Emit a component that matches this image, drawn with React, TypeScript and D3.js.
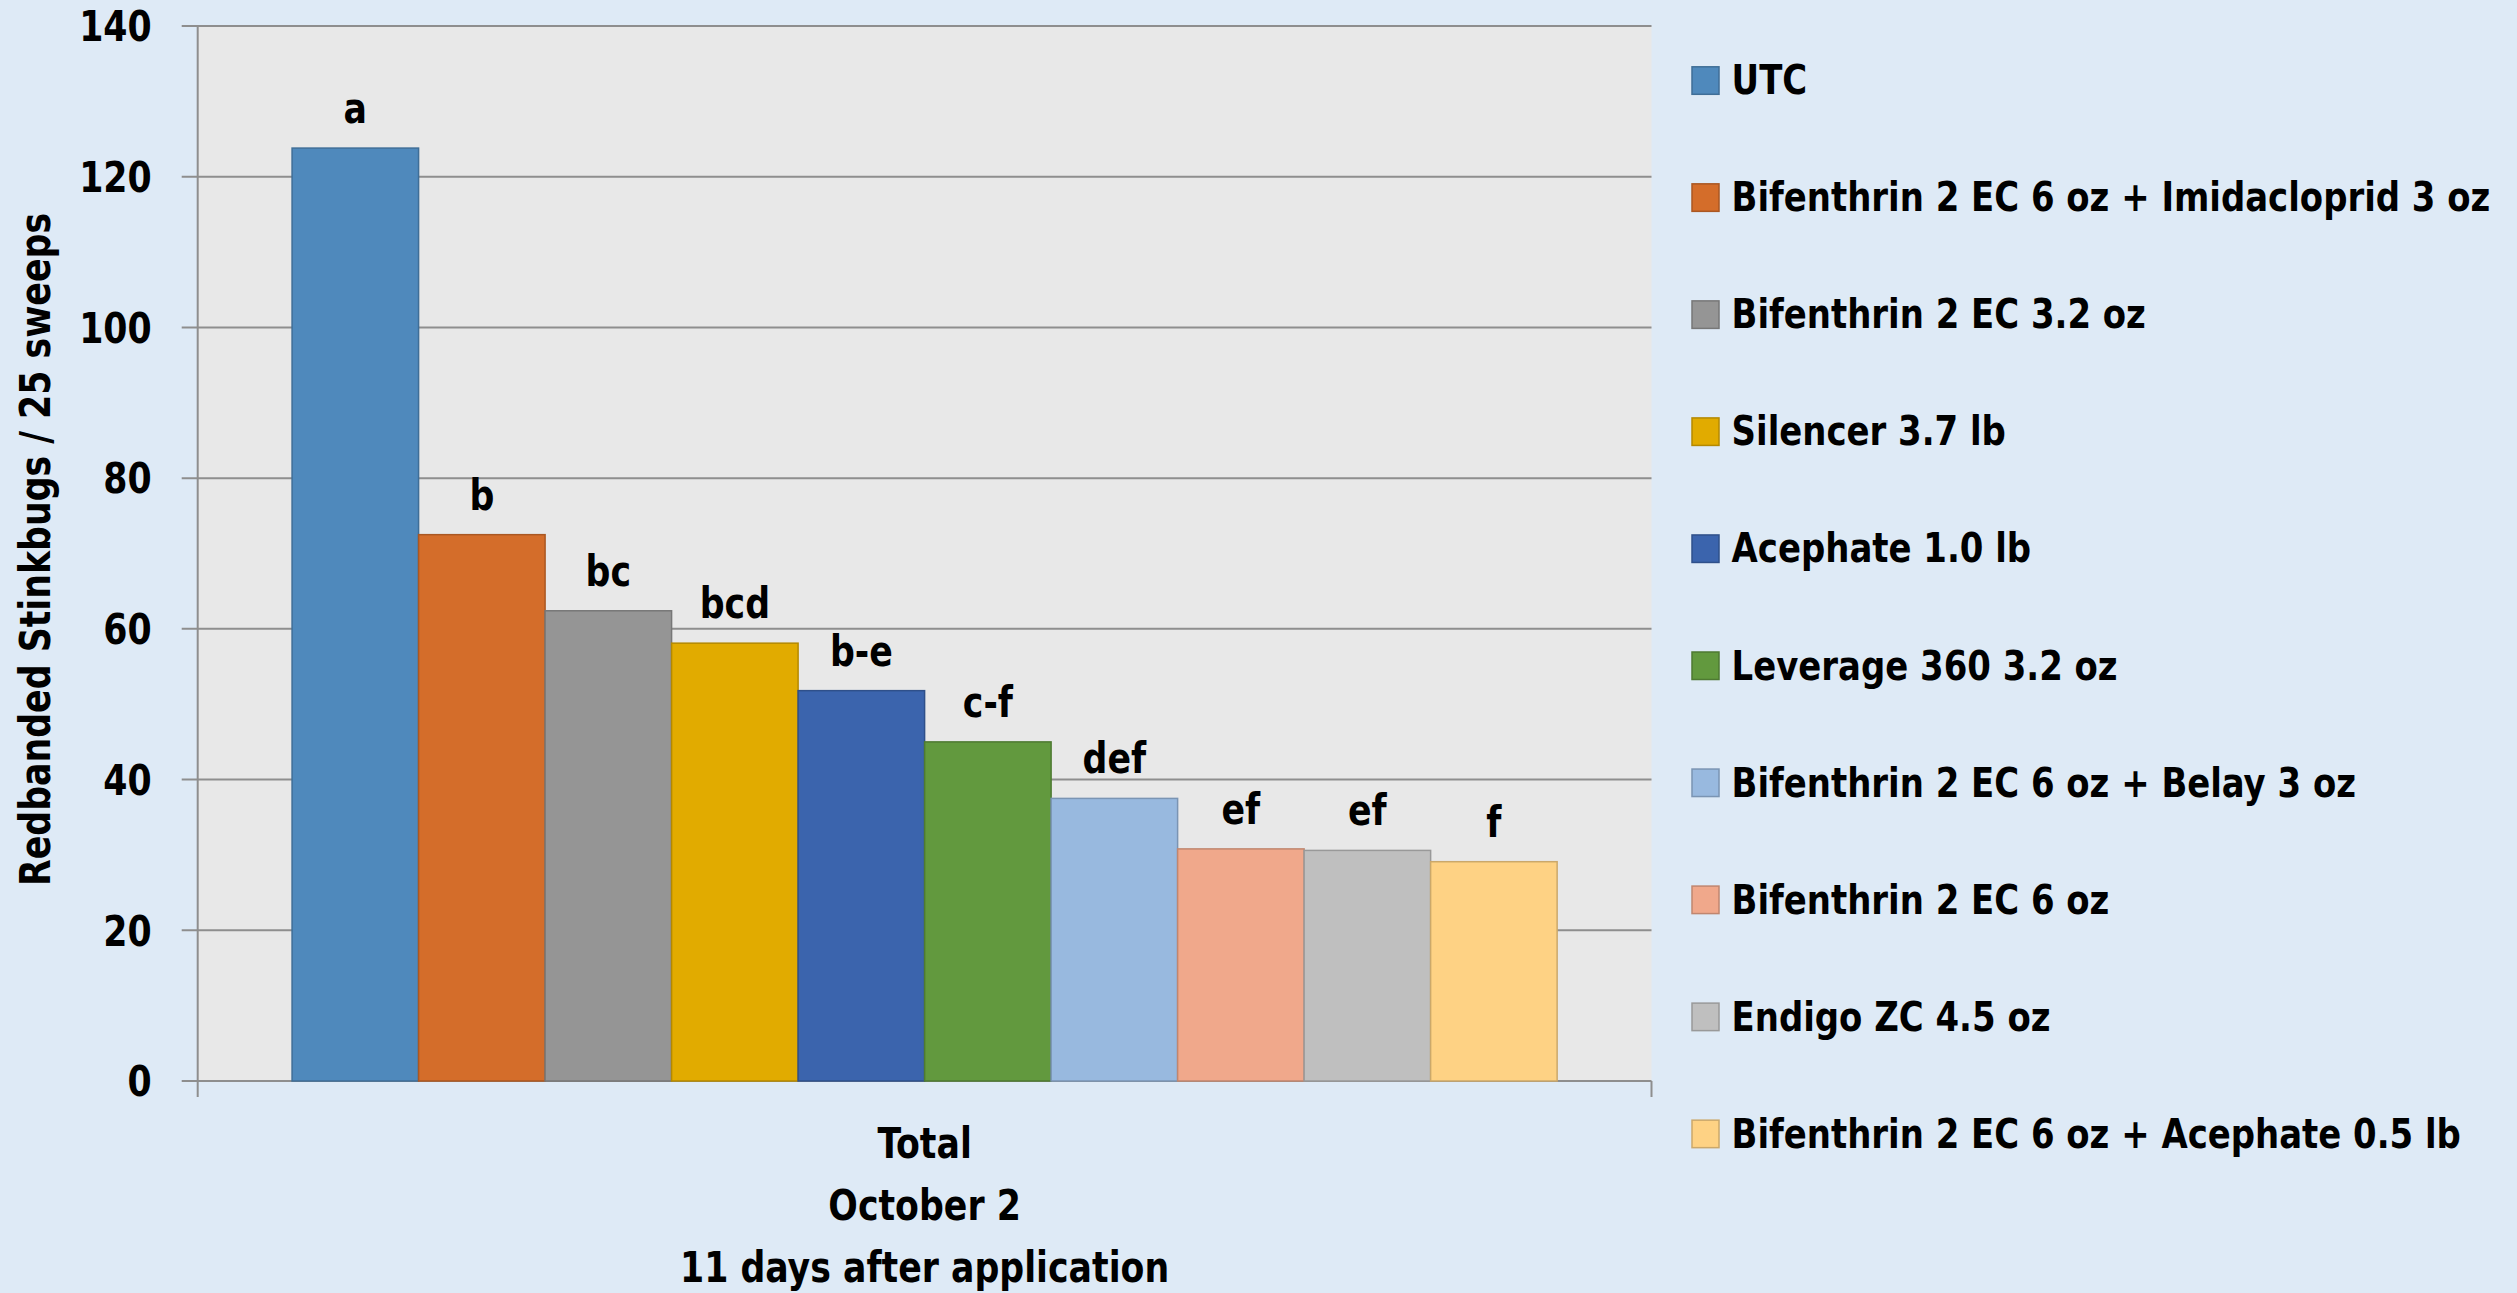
import React from "react";
import * as d3 from "d3";

const treatments = [
  "UTC",
  "Bifenthrin 2 EC 6 oz + Imidacloprid 3 oz",
  "Bifenthrin 2 EC 3.2 oz",
  "Silencer 3.7 lb",
  "Acephate 1.0 lb",
  "Leverage 360 3.2 oz",
  "Bifenthrin 2 EC 6 oz + Belay 3 oz",
  "Bifenthrin 2 EC 6 oz",
  "Endigo ZC 4.5 oz",
  "Bifenthrin 2 EC 6 oz + Acephate 0.5 lb",
];
const values = [123.8, 72.5, 62.4, 58.1, 51.8, 45.0, 37.5, 30.8, 30.6, 29.1];
const letters = ["a", "b", "bc", "bcd", "b-e", "c-f", "def", "ef", "ef", "f"];
const colors = [
  "#4F89BC", "#D46D2A", "#959595", "#E1AB00", "#3B64AD",
  "#62993E", "#98B9DF", "#F0A88B", "#BFBFBF", "#FED284",
];
const strokes = [
  "#3F6E97", "#AA5722", "#777777", "#B48900", "#2F508A",
  "#4E7A32", "#7A94B3", "#C0866F", "#999999", "#CBA86A",
];
const categories = ["Total"];
const categoryLines = ["Total", "October 2", "11 days after application"];
const yTicks = [0, 20, 40, 60, 80, 100, 120, 140];
const yTitle = "Redbanded Stinkbugs / 25 sweeps";

const W = 2517;
const H = 1293;
const plot = { left: 197.7, right: 1651.5, top: 26, bottom: 1081 };
const FONT = "'DejaVu Sans Condensed', 'DejaVu Sans', sans-serif";
const SX = 0.92;

function T(props: {
  x: number;
  y: number;
  size: number;
  anchor?: string;
  rotate?: number;
  children: React.ReactNode;
}) {
  const { x, y, size, anchor = "start", rotate = 0, children } = props;
  return (
    <text
      transform={`translate(${x},${y}) rotate(${rotate}) scale(${SX},1)`}
      textAnchor={anchor}
      fontSize={size}
      fill="#000"
    >
      {children}
    </text>
  );
}

export default function App() {
  const y = d3.scaleLinear().domain([0, 140]).range([plot.bottom, plot.top]);
  const x0 = d3
    .scaleBand<string>()
    .domain(categories)
    .range([plot.left, plot.right])
    .paddingInner(0)
    .paddingOuter(0.0746);
  const x1 = d3
    .scaleBand<string>()
    .domain(treatments)
    .range([0, x0.bandwidth()])
    .padding(0);

  const gridColor = "#8E8E8E";
  const fs = 42;
  const legendFs = 41;

  return (
    <svg
      width={W}
      height={H}
      style={{ position: "absolute", left: 0, top: 0, display: "block" }}
      fontFamily={FONT}
      fontWeight="bold"
    >
      <rect x={0} y={0} width={W} height={H} fill="#DEEAF6" />
      <rect
        x={plot.left}
        y={plot.top}
        width={plot.right - plot.left}
        height={plot.bottom - plot.top}
        fill="#E8E8E8"
      />
      {yTicks.map((t) => (
        <g key={t}>
          <line
            x1={plot.left - 16}
            x2={plot.right}
            y1={y(t)}
            y2={y(t)}
            stroke={gridColor}
            strokeWidth={2}
          />
          <T x={151.7} y={y(t) + 15.3} size={fs} anchor="end">
            {t}
          </T>
        </g>
      ))}
      <line
        x1={plot.left}
        x2={plot.left}
        y1={plot.top}
        y2={plot.bottom + 16}
        stroke={gridColor}
        strokeWidth={2}
      />
      <line
        x1={plot.right}
        x2={plot.right}
        y1={plot.bottom}
        y2={plot.bottom + 16}
        stroke={gridColor}
        strokeWidth={2}
      />
      {categories.map((c) => (
        <g key={c} transform={`translate(${x0(c)},0)`}>
          {treatments.map((tr, i) => (
            <g key={tr}>
              <rect
                x={x1(tr)!}
                y={y(values[i])}
                width={x1.bandwidth()}
                height={y(0) - y(values[i])}
                fill={colors[i]}
                stroke={strokes[i]}
                strokeWidth={1.5}
              />
              <T
                x={x1(tr)! + x1.bandwidth() / 2}
                y={y(values[i]) - 25}
                size={fs}
                anchor="middle"
              >
                {letters[i]}
              </T>
            </g>
          ))}
        </g>
      ))}
      {categoryLines.map((l, i) => (
        <T
          key={l}
          x={(plot.left + plot.right) / 2}
          y={1158.3 + i * 61.7}
          size={fs}
          anchor="middle"
        >
          {l}
        </T>
      ))}
      <T
        x={50}
        y={(plot.top + plot.bottom) / 2 - 4}
        size={fs}
        anchor="middle"
        rotate={-90}
      >
        {yTitle}
      </T>
      {treatments.map((tr, i) => {
        const by = 94.3 + i * 117.04;
        return (
          <g key={tr}>
            <rect
              x={1692}
              y={by - 27.5}
              width={27}
              height={27.5}
              fill={colors[i]}
              stroke={strokes[i]}
              strokeWidth={1.5}
            />
            <T x={1731.6} y={by} size={legendFs}>
              {tr}
            </T>
          </g>
        );
      })}
    </svg>
  );
}
